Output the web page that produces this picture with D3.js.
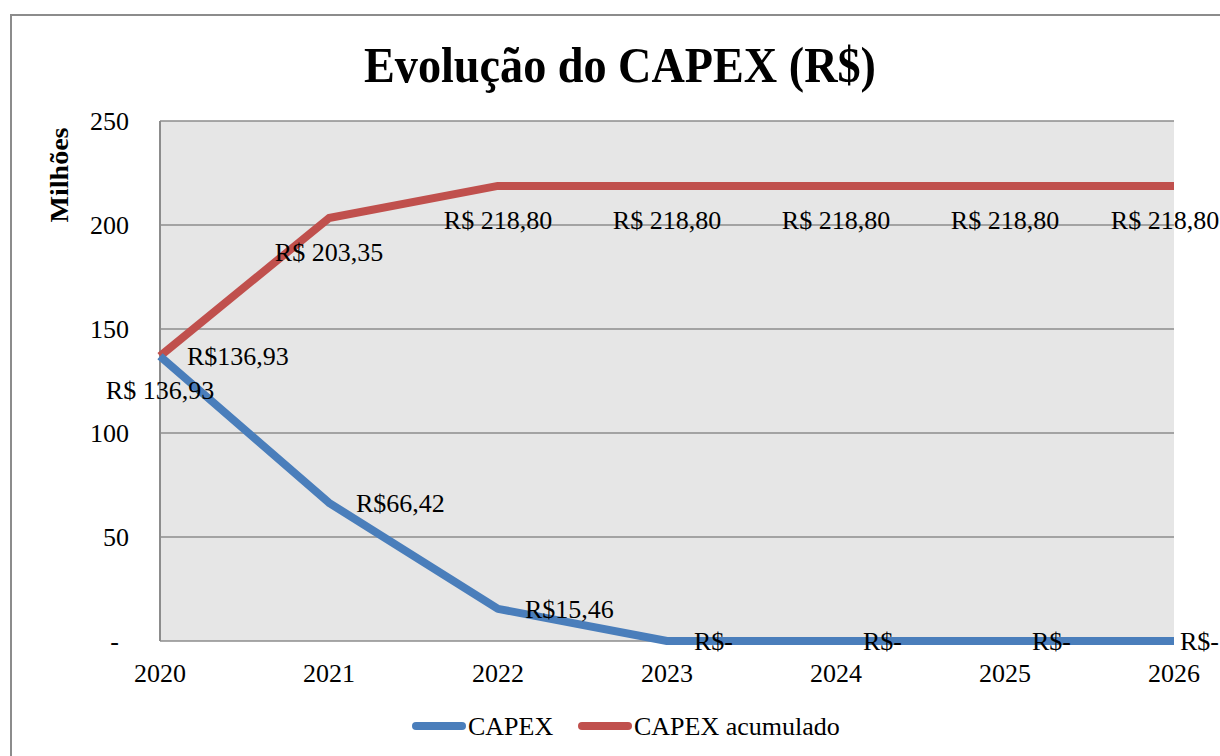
<!DOCTYPE html>
<html lang="pt">
    <head>
        <meta charset="utf-8">
        <title>Evolução do CAPEX</title>
        <script src="https://d3js.org/d3.v7.min.js"></script>
        <style type="text/css">
          body { margin: 0; background: #fff; }
          text { font-family: "Liberation Serif", "DejaVu Serif", serif; fill: #000; }
          .title { font-size: 51px; font-weight: bold; }
          .tick-label { font-size: 26px; }
          .data-label { font-size: 26px; }
          .axis-title { font-size: 25px; font-weight: bold; }
        </style>
    </head>
    <body>
        <svg width="1220" height="756"></svg>
        <script type="text/javascript">

            // data (milhões de R$)
            const years = ["2020", "2021", "2022", "2023", "2024", "2025", "2026"];
            const capex = [136.93, 66.42, 15.46, 0, 0, 0, 0];
            const capexAcumulado = [136.93, 203.35, 218.80, 218.80, 218.80, 218.80, 218.80];
            const yTicks = [0, 50, 100, 150, 200, 250];

            const svg = d3.select("svg");
            const w = 1220;
            const h = 756;
            const margin = {top: 121, right: 46, bottom: 115, left: 160};

            const blue = "#4a7ebb";
            const red = "#c0504d";

            // outer chart border
            svg.append("rect")
               .attr("x", 11).attr("y", 15)
               .attr("width", w).attr("height", h)
               .attr("fill", "#fff")
               .attr("stroke", "#8c8c8c")
               .attr("stroke-width", 2);

            const x = d3.scalePoint()
                        .domain(years)
                        .range([margin.left, w - margin.right]);

            const y = d3.scaleLinear()
                        .domain([0, 250])
                        .range([h - margin.bottom, margin.top]);

            // plot area
            svg.append("rect")
               .attr("x", margin.left).attr("y", margin.top)
               .attr("width", x.range()[1] - margin.left)
               .attr("height", y(0) - margin.top)
               .attr("fill", "#e6e6e6");

            // gridlines
            svg.append("g")
               .selectAll("line")
               .data(yTicks)
               .enter()
               .append("line")
               .attr("x1", margin.left)
               .attr("x2", x.range()[1])
               .attr("y1", d => y(d))
               .attr("y2", d => y(d))
               .style("stroke", "#8c8c8c")
               .style("stroke-width", 1.5);

            // left axis line
            svg.append("line")
               .attr("x1", margin.left).attr("x2", margin.left)
               .attr("y1", margin.top).attr("y2", y(0))
               .style("stroke", "#8c8c8c")
               .style("stroke-width", 2);

            // y tick labels
            svg.append("g")
               .selectAll("text")
               .data(yTicks)
               .enter()
               .append("text")
               .attr("class", "tick-label")
               .attr("x", d => d === 0 ? 119 : 129)
               .attr("y", d => y(d) + 9)
               .attr("text-anchor", "end")
               .text(d => d === 0 ? "-" : d);

            // x tick labels
            svg.append("g")
               .selectAll("text")
               .data(years)
               .enter()
               .append("text")
               .attr("class", "tick-label")
               .attr("x", d => x(d))
               .attr("y", 682)
               .attr("text-anchor", "middle")
               .text(d => d);

            // y axis title
            svg.append("text")
               .attr("class", "axis-title")
               .attr("transform", "translate(68,175) rotate(-90)")
               .attr("text-anchor", "middle")
               .attr("textLength", 95)
               .attr("lengthAdjust", "spacingAndGlyphs")
               .text("Milhões");

            const line = d3.line()
                           .x((d, i) => x(years[i]))
                           .y(d => y(d));

            svg.append("path")
               .datum(capexAcumulado)
               .attr("d", line)
               .attr("fill", "none")
               .style("stroke", red)
               .style("stroke-width", 8)
               .style("stroke-linejoin", "round");

            svg.append("path")
               .datum(capex)
               .attr("d", line)
               .attr("fill", "none")
               .style("stroke", blue)
               .style("stroke-width", 8)
               .style("stroke-linejoin", "round");

            const fmt = v => v.toFixed(2).replace(".", ",");
            const last = years.length - 1;

            // labels for CAPEX acumulado (below the point)
            svg.append("g")
               .selectAll("text")
               .data(capexAcumulado)
               .enter()
               .append("text")
               .attr("class", "data-label")
               .attr("x", (d, i) => x(years[i]) - (i === last ? 9 : 0))
               .attr("y", d => y(d) + 43)
               .attr("text-anchor", "middle")
               .text(d => "R$ " + fmt(d));

            // labels for CAPEX (right of the point)
            svg.append("g")
               .selectAll("text")
               .data(capex)
               .enter()
               .append("text")
               .attr("class", "data-label")
               .attr("x", (d, i) => x(years[i]) + (i === last ? 6 : 27))
               .attr("y", d => y(d) + 9)
               .attr("text-anchor", "start")
               .text(d => d === 0 ? "R$-" : "R$" + fmt(d));

            // title
            svg.append("text")
               .attr("class", "title")
               .attr("x", 620)
               .attr("y", 82)
               .attr("text-anchor", "middle")
               .attr("textLength", 512)
               .attr("lengthAdjust", "spacingAndGlyphs")
               .text("Evolução do CAPEX (R$)");

            // legend
            const legend = [
              {name: "CAPEX", color: blue, x: 416},
              {name: "CAPEX acumulado", color: red, x: 582}
            ];
            const lg = svg.append("g")
                          .selectAll("g")
                          .data(legend)
                          .enter()
                          .append("g");
            lg.append("line")
              .attr("x1", d => d.x).attr("x2", d => d.x + 46)
              .attr("y1", 726).attr("y2", 726)
              .style("stroke", d => d.color)
              .style("stroke-width", 8)
              .style("stroke-linecap", "round");
            lg.append("text")
              .attr("class", "tick-label")
              .attr("x", d => d.x + 52)
              .attr("y", 735)
              .text(d => d.name);

        </script>
    </body>
</html>
